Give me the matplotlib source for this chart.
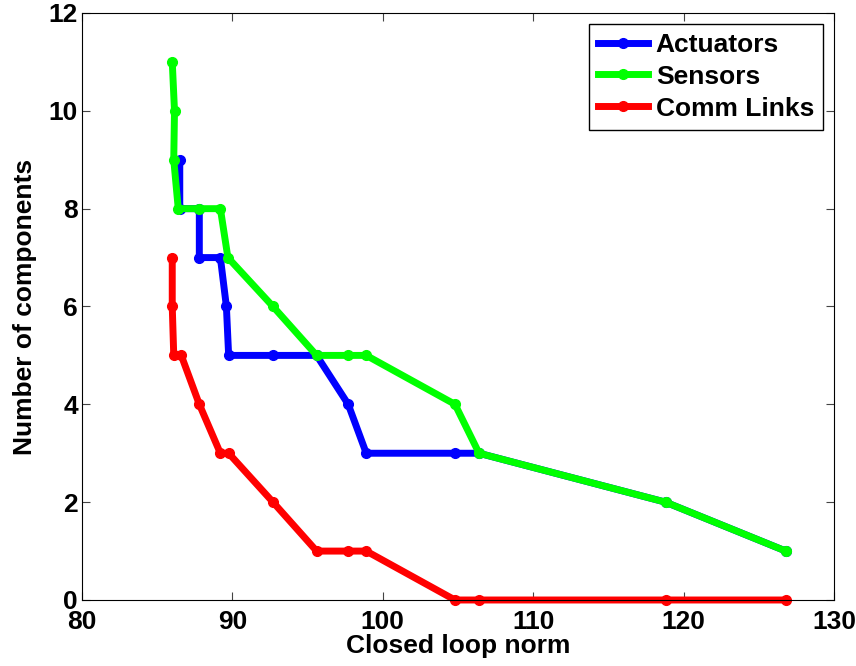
import numpy as np
import matplotlib
matplotlib.use("Agg")
import matplotlib.pyplot as plt

plt.rcParams['font.family'] = ['Liberation Sans', 'DejaVu Sans']
plt.rcParams['font.weight'] = 'bold'

# Actuators
act_x = [86.5, 86.5, 87.8, 87.8, 89.2, 89.6, 89.75, 92.7, 95.6, 97.7, 98.9, 104.8, 106.4, 118.8, 126.8]
act_y = [9, 8, 8, 7, 7, 6, 5, 5, 5, 4, 3, 3, 3, 2, 1]

# Sensors
sen_x = [86.0, 86.15, 86.1, 86.4, 87.8, 89.2, 89.7, 92.7, 95.6, 97.7, 98.9, 104.8, 106.4, 118.8, 126.8]
sen_y = [11, 10, 9, 8, 8, 8, 7, 6, 5, 5, 5, 4, 3, 2, 1]

# Comm links
com_x = [86.0, 86.0, 86.1, 86.6, 87.8, 89.2, 89.75, 92.7, 95.6, 97.7, 98.9, 104.8, 106.4, 118.8, 126.8]
com_y = [7, 6, 5, 5, 4, 3, 3, 2, 1, 1, 1, 0, 0, 0, 0]

fig = plt.figure(figsize=(8.56, 6.66), dpi=100)
ax = fig.add_axes([0.0958, 0.0991, 0.8785, 0.8814])

kw = dict(lw=5, marker='o', markersize=7, clip_on=False)
ax.plot(act_x, act_y, color='#0000ff', label='Actuators', **kw)
ax.plot(sen_x, sen_y, color='#00ff00', label='Sensors', **kw)
ax.plot(com_x, com_y, color='#ff0000', label='Comm Links', **kw)

ax.set_xlim(80, 130)
ax.set_ylim(0, 12)
ax.set_xticks(np.arange(80, 131, 10))
ax.set_yticks(np.arange(0, 13, 2))
ax.tick_params(direction='in', labelsize=19, length=6, width=0.8, color='#444444')
ax.tick_params(top=True, right=True)
ax.tick_params(axis='x', pad=7)
ax.tick_params(axis='y', pad=3)
ax.set_xlabel("Closed loop norm", fontsize=19, fontweight='bold', labelpad=0)
ax.set_ylabel("Number of components", fontsize=19, fontweight='bold', labelpad=8)

leg = ax.legend(loc='upper right', fontsize=19, fancybox=False, framealpha=1,
                edgecolor='black', borderaxespad=0.4, handlelength=1.9,
                handletextpad=0.3, labelspacing=0.3, borderpad=0.35,
                numpoints=1)
leg.get_frame().set_linewidth(1)

fig.savefig("out.png", dpi=100)
